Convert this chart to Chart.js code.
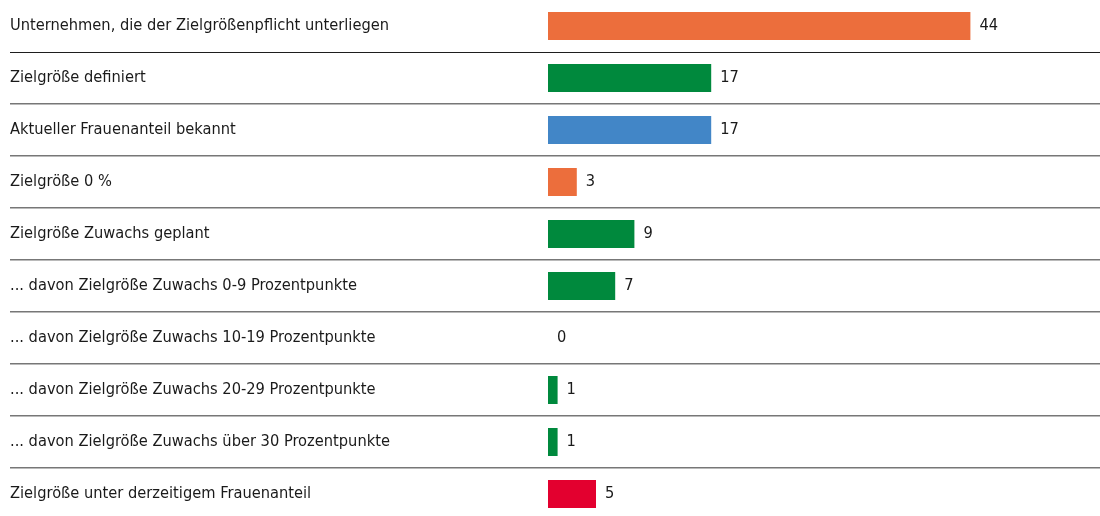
<!DOCTYPE html>
<html lang="de">
<head>
<meta charset="utf-8">
<title>Zielgrößen</title>
<script src="https://cdn.jsdelivr.net/npm/chart.js@4"></script>
<style>
  html, body { margin: 0; padding: 0; background: #fff; overflow: hidden; }
  #wrap { width: 1100px; height: 520px; position: relative; }
</style>
</head>
<body>
<div id="wrap"><canvas id="zielChart"></canvas></div>
<script>
// categories and values
const categories = [
  'Unternehmen, die der Zielgrößenpflicht unterliegen',
  'Zielgröße definiert',
  'Aktueller Frauenanteil bekannt',
  'Zielgröße 0 %',
  'Zielgröße Zuwachs geplant',
  '... davon Zielgröße Zuwachs 0-9 Prozentpunkte',
  '... davon Zielgröße Zuwachs 10-19 Prozentpunkte',
  '... davon Zielgröße Zuwachs 20-29 Prozentpunkte',
  '... davon Zielgröße Zuwachs über 30 Prozentpunkte',
  'Zielgröße unter derzeitigem Frauenanteil'
];
const values = [44, 17, 17, 3, 9, 7, 0, 1, 1, 5];
const barColors = [
  '#EC6E3C', '#00893D', '#4286C7', '#EC6E3C', '#00893D',
  '#00893D', '#00893D', '#00893D', '#00893D', '#E3002F'
];

const FONT = "'Liberation Sans Narrow', 'DejaVu Sans Condensed', sans-serif";

// value next to the bar end
const valueLabels = {
  id: 'valueLabels',
  afterDatasetsDraw(chart) {
    const c = chart.ctx;
    const meta = chart.getDatasetMeta(0);
    c.save();
    c.font = '16.3px ' + FONT;
    c.fillStyle = '#1a1a1a';
    c.textAlign = 'left';
    c.textBaseline = 'middle';
    meta.data.forEach((bar, i) => {
      c.fillText(String(values[i]), bar.x + 9, bar.y);
    });
    c.restore();
  }
};

new Chart(document.getElementById('zielChart'), {
  type: 'bar',
  data: {
    labels: categories,
    datasets: [{
      data: values,
      backgroundColor: barColors,
      borderWidth: 0,
      inflateAmount: 0,
      barThickness: 28
    }]
  },
  options: {
    indexAxis: 'y',
    responsive: true,
    maintainAspectRatio: false,
    animation: false,
    layout: { padding: { left: 10, right: 0, top: 0, bottom: 0 } },
    plugins: {
      legend: { display: false },
      tooltip: { enabled: false }
    },
    scales: {
      x: {
        display: false,
        min: 0,
        max: 57.5
      },
      y: {
        border: { display: false },
        afterFit(scale) {
          scale.width = 538;
          scale.paddingTop = 0;
          scale.paddingBottom = 0;
        },
        grid: {
          offset: true,
          drawTicks: true,
          tickLength: 538,
          color(ctx) {
            const i = ctx.index;
            if (i === undefined || i === 0) return 'rgba(0,0,0,0)';
            return i === 1 ? '#1e1e1e' : '#777777';
          },
          lineWidth(ctx) {
            return ctx.index === 1 ? 1 : 1.6;
          }
        },
        ticks: {
          crossAlign: 'far',
          padding: 0,
          color: '#1a1a1a',
          font: { family: FONT, size: 16.3 }
        }
      }
    }
  },
  plugins: [valueLabels]
});
</script>
</body>
</html>
